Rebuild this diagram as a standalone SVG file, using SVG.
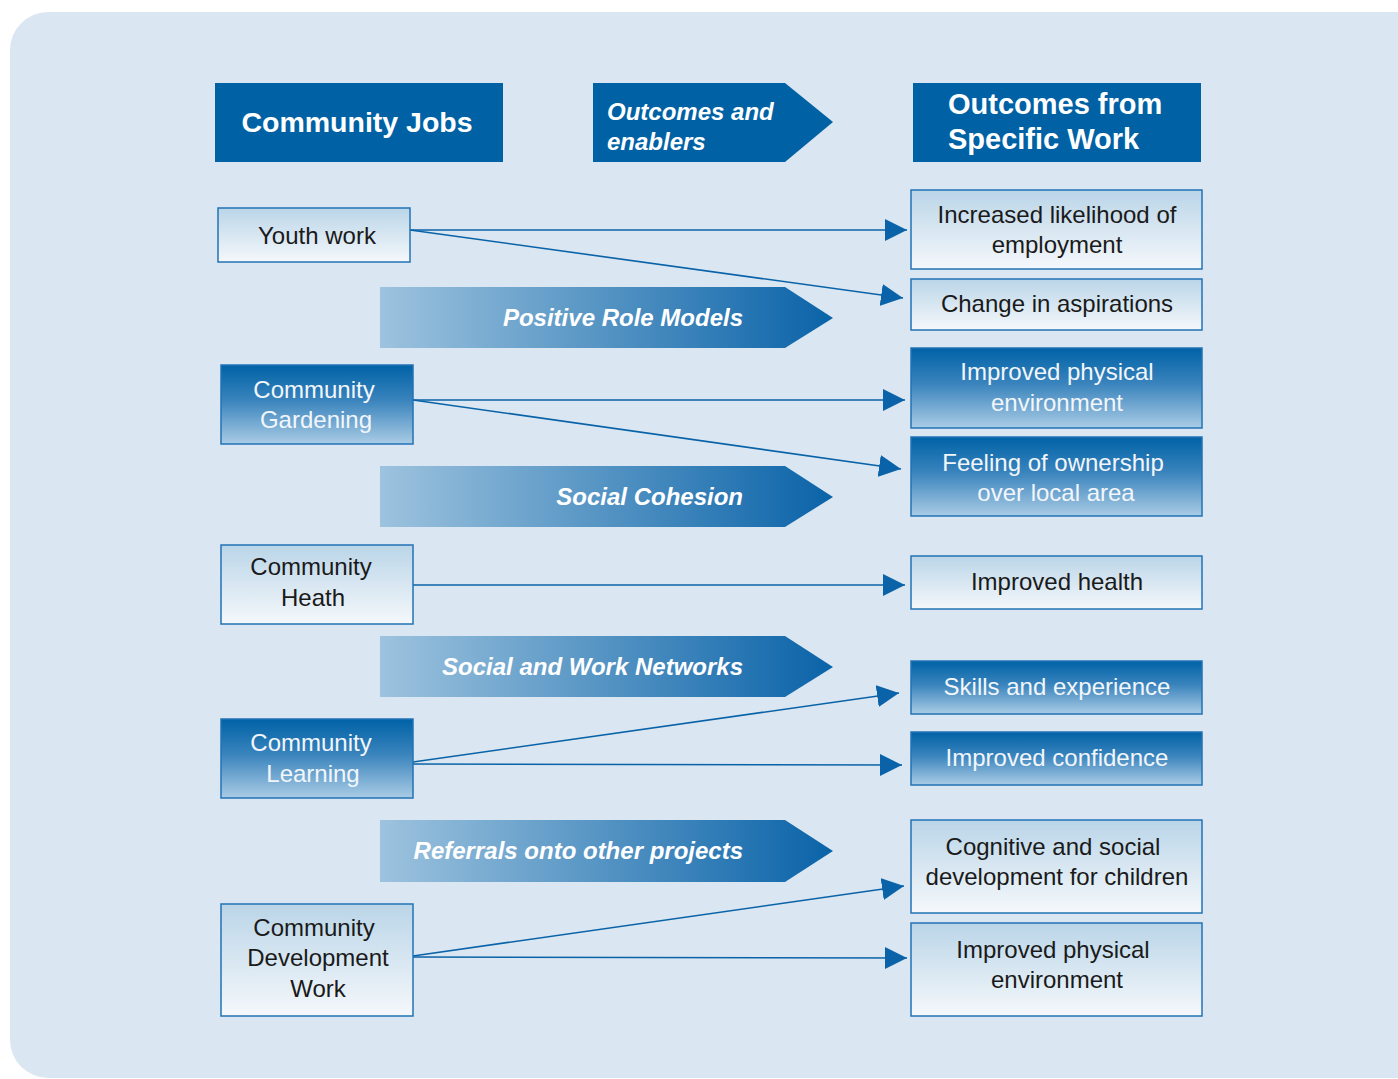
<svg xmlns="http://www.w3.org/2000/svg" width="1398" height="1079" viewBox="0 0 1398 1079">
  <defs>
    <linearGradient id="gLight" x1="0" y1="0" x2="0" y2="1">
      <stop offset="0" stop-color="#bad5e8"/>
      <stop offset="1" stop-color="#f5f8fb"/>
    </linearGradient>
    <linearGradient id="gDark" x1="0" y1="0" x2="0" y2="1">
      <stop offset="0" stop-color="#0062a6"/>
      <stop offset="0.45" stop-color="#3a84bd"/>
      <stop offset="1" stop-color="#aaccE5"/>
    </linearGradient>
    <linearGradient id="gBand" x1="0" y1="0" x2="1" y2="0">
      <stop offset="0" stop-color="#9dc3de"/>
      <stop offset="1" stop-color="#0a63a8"/>
    </linearGradient>
    <marker id="arrow" viewBox="0 0 10 10" refX="10" refY="5" markerUnits="userSpaceOnUse" markerWidth="22" markerHeight="24" orient="auto">
      <path d="M0,0 L10,5 L0,10 z" fill="#0a63a8"/>
    </marker>
    <style>
      .hdr { fill: #0062a5; }
      .hdrtxt { font-family: "Liberation Sans", Arial, sans-serif; font-weight: bold; fill: #ffffff; }
      .light { fill: url(#gLight); stroke: #2273b5; stroke-width: 1.5; }
      .dark { fill: url(#gDark); stroke: #2273b5; stroke-width: 1.5; }
      .band { fill: url(#gBand); }
      .t { font-family: "Liberation Sans", Arial, sans-serif; font-size: 24px; text-anchor: middle; }
      .tl { fill: #1a1a1a; }
      .td { fill: #f2f6fa; }
      .bandtxt { font-family: "Liberation Sans", Arial, sans-serif; font-size: 24px; font-weight: bold; font-style: italic; fill: #ffffff; text-anchor: end; }
      .conn { stroke: #0a63a8; stroke-width: 1.6; fill: none; marker-end: url(#arrow); }
    </style>
  </defs>

  <!-- panel background -->
  <rect x="10" y="12" width="1430" height="1066" rx="38" ry="38" fill="#dae7f2"/>

  <!-- column headers -->
  <g id="hdr-jobs">
    <rect class="hdr" x="215" y="83" width="288" height="79"/>
    <text class="hdrtxt" x="357" y="132" font-size="28.5" text-anchor="middle">Community Jobs</text>
  </g>
  <g id="hdr-enablers">
    <path class="hdr" d="M593,83 H785 L833,122 L785,162 H593 Z"/>
    <text class="hdrtxt" x="607" y="120" font-size="24" font-style="italic">Outcomes and</text>
    <text class="hdrtxt" x="607" y="150" font-size="24" font-style="italic">enablers</text>
  </g>
  <g id="hdr-outcomes">
    <rect class="hdr" x="913" y="83" width="288" height="79"/>
    <text class="hdrtxt" x="948" y="114" font-size="29">Outcomes from</text>
    <text class="hdrtxt" x="948" y="149" font-size="29">Specific Work</text>
  </g>

  <!-- enabler bands -->
  <g id="band-role-models">
    <path class="band" d="M380,287 H785 L833,318 L785,348 H380 Z"/>
    <text class="bandtxt" x="743" y="326">Positive Role Models</text>
  </g>
  <g id="band-cohesion">
    <path class="band" d="M380,466 H785 L833,497 L785,527 H380 Z"/>
    <text class="bandtxt" x="743" y="505">Social Cohesion</text>
  </g>
  <g id="band-networks">
    <path class="band" d="M380,636 H785 L833,667 L785,697 H380 Z"/>
    <text class="bandtxt" x="743" y="675">Social and Work Networks</text>
  </g>
  <g id="band-referrals">
    <path class="band" d="M380,820 H785 L833,851 L785,882 H380 Z"/>
    <text class="bandtxt" x="743" y="859">Referrals onto other projects</text>
  </g>

  <!-- connectors -->
  <g id="connectors">
    <line class="conn" x1="410" y1="230" x2="907" y2="230"/>
    <line class="conn" x1="410" y1="230" x2="903" y2="298"/>
    <line class="conn" x1="413" y1="400" x2="905" y2="400"/>
    <line class="conn" x1="413" y1="400" x2="901" y2="469"/>
    <line class="conn" x1="413" y1="585" x2="905" y2="585"/>
    <line class="conn" x1="413" y1="762" x2="899" y2="693"/>
    <line class="conn" x1="413" y1="764" x2="902" y2="765"/>
    <line class="conn" x1="413" y1="956" x2="904" y2="886"/>
    <line class="conn" x1="413" y1="957" x2="907" y2="958"/>
  </g>

  <!-- community jobs -->
  <g id="job-youth">
    <rect class="light" x="218" y="208" width="192" height="54"/>
    <text class="t tl" x="317" y="244">Youth work</text>
  </g>
  <g id="job-gardening">
    <rect class="dark" x="221" y="365" width="192" height="79"/>
    <text class="t td" x="314" y="398">Community</text>
    <text class="t td" x="316" y="428">Gardening</text>
  </g>
  <g id="job-health">
    <rect class="light" x="221" y="545" width="192" height="79"/>
    <text class="t tl" x="311" y="575">Community</text>
    <text class="t tl" x="313" y="606">Heath</text>
  </g>
  <g id="job-learning">
    <rect class="dark" x="221" y="719" width="192" height="79"/>
    <text class="t td" x="311" y="751">Community</text>
    <text class="t td" x="313" y="782">Learning</text>
  </g>
  <g id="job-development">
    <rect class="light" x="221" y="904" width="192" height="112"/>
    <text class="t tl" x="314" y="936">Community</text>
    <text class="t tl" x="318" y="966">Development</text>
    <text class="t tl" x="318" y="997">Work</text>
  </g>

  <!-- outcomes -->
  <g id="out-employment">
    <rect class="light" x="911" y="190" width="291" height="79"/>
    <text class="t tl" x="1057" y="223">Increased likelihood of</text>
    <text class="t tl" x="1057" y="253">employment</text>
  </g>
  <g id="out-aspirations">
    <rect class="light" x="911" y="279" width="291" height="51"/>
    <text class="t tl" x="1057" y="312">Change in aspirations</text>
  </g>
  <g id="out-physical-1">
    <rect class="dark" x="911" y="348" width="291" height="80"/>
    <text class="t td" x="1057" y="380">Improved physical</text>
    <text class="t td" x="1057" y="411">environment</text>
  </g>
  <g id="out-ownership">
    <rect class="dark" x="911" y="437" width="291" height="79"/>
    <text class="t td" x="1053" y="471">Feeling of ownership</text>
    <text class="t td" x="1056" y="501">over local area</text>
  </g>
  <g id="out-health">
    <rect class="light" x="911" y="556" width="291" height="53"/>
    <text class="t tl" x="1057" y="590">Improved health</text>
  </g>
  <g id="out-skills">
    <rect class="dark" x="911" y="661" width="291" height="53"/>
    <text class="t td" x="1057" y="695">Skills and experience</text>
  </g>
  <g id="out-confidence">
    <rect class="dark" x="911" y="732" width="291" height="53"/>
    <text class="t td" x="1057" y="766">Improved confidence</text>
  </g>
  <g id="out-children">
    <rect class="light" x="911" y="820" width="291" height="93"/>
    <text class="t tl" x="1053" y="855">Cognitive and social</text>
    <text class="t tl" x="1057" y="885">development for children</text>
  </g>
  <g id="out-physical-2">
    <rect class="light" x="911" y="923" width="291" height="93"/>
    <text class="t tl" x="1053" y="958">Improved physical</text>
    <text class="t tl" x="1057" y="988">environment</text>
  </g>
</svg>
